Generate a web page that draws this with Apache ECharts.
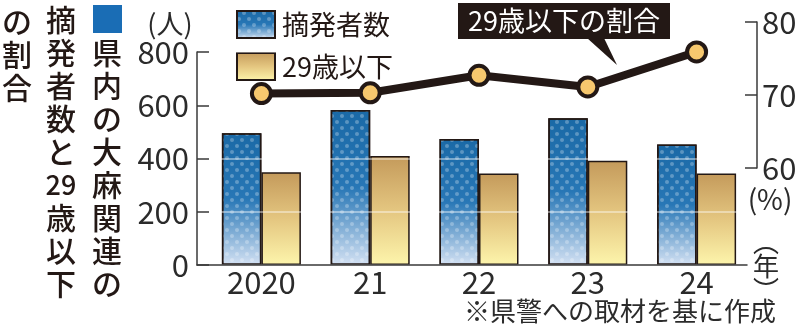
<!DOCTYPE html>
<html>
<head>
<meta charset="utf-8">
<script src="https://cdn.jsdelivr.net/npm/echarts@6/dist/echarts.min.js"></script>
<style>
html,body{margin:0;padding:0;background:#fff;}
#chart{width:800px;height:327px;}
</style>
</head>
<body>
<div id="chart"></div>
<script>
// ---- data ----
var categories = ['2020', '21', '22', '23', '24'];
var arrests = [495, 582, 473, 551, 453];        // 摘発者数
var under29 = [348, 409, 344, 392, 344];        // 29歳以下
var ratio = [70.2, 70.3, 72.7, 71.1, 75.9];     // 29歳以下の割合 (%)
var leftTicks = { min: 0, max: 800, interval: 200 };
var rightTicks = { min: 60, max: 80, interval: 10 };

var INK = '#231815';
var FONT = '"Noto Sans CJK JP", "Noto Sans", sans-serif';

var chart = echarts.init(document.getElementById('chart'), null, { renderer: 'canvas' });

var blueFill = {
  type: 'linear', x: 0, y: 0, x2: 0, y2: 1,
  colorStops: [
    { offset: 0, color: '#1a69a6' },
    { offset: 0.5, color: '#2877b6' },
    { offset: 1, color: '#d3e1f3' }
  ]
};
var yellowFill = {
  type: 'linear', x: 0, y: 0, x2: 0, y2: 1,
  colorStops: [
    { offset: 0, color: '#c49a5b' },
    { offset: 0.5, color: '#e4c680' },
    { offset: 1, color: '#fdf5ac' }
  ]
};

var option = {
  animation: false,
  textStyle: { fontFamily: FONT },
  grid: [
    { left: 207, right: 49, top: 52, bottom: 62 },   // bars
    { left: 207, right: 49, top: 22, bottom: 159 },  // ratio line
    { left: 197, right: 53, top: 52, bottom: 62 }    // visible left axis frame
  ],
  legend: {
    orient: 'vertical',
    left: 231, top: 5,
    itemWidth: 38, itemHeight: 27, itemGap: 13,
    icon: 'rect',
    textStyle: { fontSize: 27, color: INK, fontFamily: FONT, padding: [0, 0, 0, 2] },
    data: ['摘発者数', '29歳以下']
  },
  xAxis: [
    {
      type: 'category', gridIndex: 0, data: categories,
      axisLine: { show: false }, axisTick: { show: false },
      axisLabel: { fontSize: 31, color: '#2b2b2b', margin: 2, fontFamily: FONT }
    },
    {
      type: 'category', gridIndex: 1, data: categories,
      axisLine: { show: false }, axisTick: { show: false }, axisLabel: { show: false }
    },
    {
      type: 'value', gridIndex: 2, min: 0, max: 1, z: 6,
      axisLine: { show: true, lineStyle: { color: '#3a3a3a', width: 1.5 } },
      axisTick: { show: false }, axisLabel: { show: false }, splitLine: { show: false }
    }
  ],
  yAxis: [
    {
      type: 'value', gridIndex: 0, min: leftTicks.min, max: leftTicks.max, interval: leftTicks.interval,
      show: false
    },
    {
      type: 'value', gridIndex: 1, position: 'right', offset: 6,
      min: rightTicks.min, max: rightTicks.max, interval: rightTicks.interval,
      axisLine: { show: true, lineStyle: { color: '#3a3a3a', width: 1.5 } },
      axisTick: { show: true, inside: true, length: 12, lineStyle: { color: '#3a3a3a', width: 1.5 } },
      axisLabel: { fontSize: 31, color: '#2b2b2b', margin: 5, fontFamily: FONT },
      splitLine: { show: false }
    },
    {
      type: 'value', gridIndex: 2, z: 5,
      min: leftTicks.min, max: leftTicks.max, interval: leftTicks.interval,
      axisLine: { show: true, lineStyle: { color: '#3a3a3a', width: 1.5 } },
      axisTick: { show: true, inside: true, length: 12, lineStyle: { color: '#3a3a3a', width: 1.5 } },
      axisLabel: { fontSize: 31, color: '#2b2b2b', margin: 8, fontFamily: FONT },
      splitLine: { show: true, lineStyle: { color: 'rgba(255,255,255,0.55)', width: 1.5 } }
    }
  ],
  series: [
    {
      name: '摘発者数', type: 'bar', xAxisIndex: 0, yAxisIndex: 0,
      data: arrests, barWidth: 39.5, barGap: '0%', z: 2,
      itemStyle: {
        color: blueFill, borderColor: INK, borderWidth: 1.5,
        decal: {
          symbol: 'circle', symbolSize: 1,
          color: 'rgba(255,255,255,0.28)',
          dashArrayX: [[4, 6], [0, 5, 4, 1]],
          dashArrayY: [4, 1.5]
        }
      }
    },
    {
      name: '29歳以下', type: 'bar', xAxisIndex: 0, yAxisIndex: 0,
      data: under29, barWidth: 39.5, barGap: '0%', z: 2,
      itemStyle: { color: yellowFill, borderColor: INK, borderWidth: 1.5 }
    },
    {
      name: '29歳以下の割合', type: 'line', xAxisIndex: 1, yAxisIndex: 1,
      data: ratio, z: 10,
      symbol: 'circle', symbolSize: 19,
      lineStyle: { color: INK, width: 8 },
      itemStyle: { color: '#f7c86e', borderColor: INK, borderWidth: 4 }
    }
  ],
  graphic: [
    // vertical title (columns right to left)
    { type: 'rect', left: 93, top: 5, shape: { width: 29, height: 28 }, style: { fill: '#1a6db5' } },
    {
      type: 'text', x: 107, y: 36,
      style: {
        text: '県\n内\nの\n大\n麻\n関\n連\nの',
        font: '500 30px ' + FONT, fill: INK, align: 'center', verticalAlign: 'top', lineHeight: 33
      }
    },
    {
      type: 'text', x: 61, y: 3,
      style: {
        text: '摘\n発\n者\n数\nと\n{n|29}\n歳\n以\n下',
        font: '500 30px ' + FONT, fill: INK, align: 'center', verticalAlign: 'top', lineHeight: 33,
        rich: { n: { font: '500 27px ' + FONT, fill: INK, lineHeight: 33 } }
      }
    },
    {
      type: 'text', x: 17, y: 5,
      style: {
        text: 'の\n割\n合',
        font: '500 30px ' + FONT, fill: INK, align: 'center', verticalAlign: 'top', lineHeight: 33
      }
    },
    // unit labels
    { type: 'text', x: 170, y: 24, style: { text: '(人)', font: '27px ' + FONT, fill: '#2b2b2b', align: 'center', verticalAlign: 'middle' } },
    { type: 'text', x: 770, y: 199, style: { text: '(%)', font: '28px ' + FONT, fill: '#2b2b2b', align: 'center', verticalAlign: 'middle' } },
    { type: 'text', x: 766, y: 230, style: { text: '︵\n年\n︶', font: '26px ' + FONT, fill: '#2b2b2b', align: 'center', verticalAlign: 'top', lineHeight: 24 } },
    // source note
    { type: 'text', x: 776, y: 311, style: { text: '※県警への取材を基に作成', font: '26px ' + FONT, fill: '#2b2b2b', align: 'right', verticalAlign: 'middle' } },
    // callout
    { type: 'rect', left: 458, top: 3, z: 20, shape: { width: 212, height: 36 }, style: { fill: INK } },
    { type: 'polygon', z: 20, shape: { points: [[587, 38], [604, 38], [617, 65]] }, style: { fill: INK } },
    { type: 'text', x: 564, y: 21, z: 21, style: { text: '29歳以下の割合', font: '27px ' + FONT, fill: '#ffffff', align: 'center', verticalAlign: 'middle' } }
  ]
};

chart.setOption(option);
</script>
</body>
</html>
